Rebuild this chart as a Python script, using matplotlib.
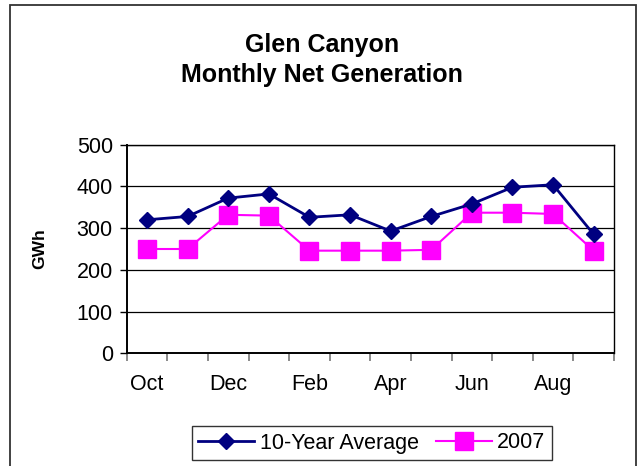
import matplotlib
matplotlib.use("Agg")
import matplotlib.pyplot as plt
from matplotlib.patches import Rectangle
import numpy as np

months = ["Oct", "Nov", "Dec", "Jan", "Feb", "Mar", "Apr", "May", "Jun", "Jul", "Aug", "Sep"]
avg10 = [320, 328, 372, 382, 326, 332, 293, 328, 358, 398, 404, 285]
y2007 = [250, 250, 332, 330, 246, 246, 246, 248, 337, 337, 334, 246]
yticks = [0, 100, 200, 300, 400, 500]

plt.rcParams['font.family'] = ['Liberation Sans', 'DejaVu Sans']

fig = plt.figure(figsize=(6.4, 4.66), dpi=100)
fig.patch.set_facecolor("white")
fig.patches.append(Rectangle((10/640, -0.1), (636-10)/640, 1.1 - 5/466,
                             transform=fig.transFigure, fill=False,
                             edgecolor="#333333", linewidth=1.3))

ax = fig.add_axes([126.7/640, 1-353.3/466, (614-126.7)/640, (353.3-144.7)/466])
x = np.arange(len(months))
ax.plot(x, avg10, color="#000080", linewidth=2, marker="D", markersize=8,
        label="10-Year Average", zorder=4)
ax.plot(x, y2007, color="#FF00FF", linewidth=1.5, marker="s", markersize=13,
        label="2007", zorder=3)

ax.set_xlim(-0.5, len(months) - 0.5)
ax.set_ylim(0, 500)
ax.set_yticks(yticks)
ax.set_yticklabels([str(v) for v in yticks], fontsize=15.5)
ax.tick_params(axis="y", length=5, width=1, direction="out", pad=5)
ax.grid(axis="y", color="black", linewidth=0.9)
ax.set_axisbelow(True)

ax.set_xticks(x[::2])
ax.set_xticklabels(months[::2], fontsize=15.5)
ax.tick_params(axis="x", which="major", length=0, pad=15)
ax.set_xticks(np.arange(-0.5, len(months)), minor=True)
ax.tick_params(axis="x", which="minor", length=6, width=1.2, color="#777777", direction="out")

for s in ["left", "bottom"]:
    ax.spines[s].set_linewidth(1.4)
    ax.spines[s].set_color("black")
for s in ["top", "right"]:
    ax.spines[s].set_linewidth(1.0)
    ax.spines[s].set_color("black")

ax.set_ylabel("GWh", fontsize=12.5, fontweight="bold")
ax.yaxis.set_label_coords(-(126.7-47)/(614-126.7), 0.5)

fig.text(0.503, 1 - 52/466, "Glen Canyon", ha="center", va="baseline",
         fontsize=18, fontweight="bold")
fig.text(0.503, 1 - 82/466, "Monthly Net Generation", ha="center", va="baseline",
         fontsize=18, fontweight="bold")

leg = fig.legend(loc="center", bbox_to_anchor=(372/640, 1 - 443/466), ncol=2,
                 fontsize=15.5, frameon=True, fancybox=False, handlelength=2.6,
                 handletextpad=0.25, columnspacing=0.8, borderpad=0.3)
leg.get_frame().set_edgecolor("black")
leg.get_frame().set_linewidth(1.0)

fig.savefig("out.png", dpi=100)
